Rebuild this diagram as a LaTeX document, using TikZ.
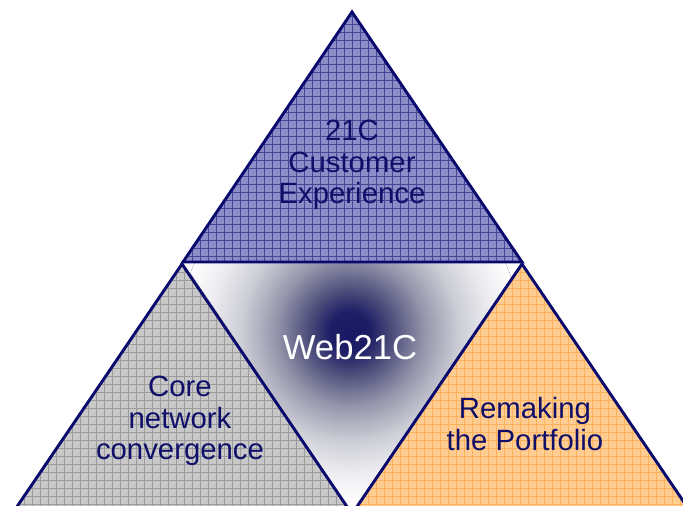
\documentclass[tikz,border=0pt]{standalone}
\usepackage{fontspec}
\setmainfont{Liberation Sans}
\definecolor{edgec}{RGB}{10,10,110}
\definecolor{textc}{RGB}{15,15,105}
\definecolor{topfill}{RGB}{140,140,200}
\definecolor{topgrid}{RGB}{70,70,150}
\definecolor{grayfill}{RGB}{200,200,200}
\definecolor{graygrid}{RGB}{155,155,155}
\definecolor{orfill}{RGB}{255,204,146}
\definecolor{orgrid}{RGB}{250,178,92}
\pgfdeclareradialshading{webglow}{\pgfpoint{0bp}{0bp}}{%
rgb(0bp)=(0.098,0.098,0.392);
rgb(3bp)=(0.118,0.118,0.4);
rgb(6bp)=(0.294,0.294,0.478);
rgb(11bp)=(0.588,0.588,0.675);
rgb(16bp)=(0.804,0.804,0.839);
rgb(21bp)=(0.933,0.933,0.949);
rgb(25bp)=(1,1,1);
rgb(50bp)=(1,1,1)}
\newcommand{\gridtri}[3]{%
\begin{scope}
\clip #1;
\fill[#2] (0,0) rectangle (683,520);
\foreach \g in {0,8,...,688} {\draw[#3,line width=0.45pt] (\g,0)--(\g,520);}
\foreach \g in {0,8,...,520} {\draw[#3,line width=0.45pt] (0,\g)--(690,\g);}
\end{scope}
\draw[edgeline] #1;
}
\tikzset{
  edgeline/.style={draw=edgec,line width=2.2pt,line join=miter},
  lbl/.style={text=textc,font=\fontsize{22}{23.5}\selectfont,align=center,inner sep=0pt},
}
\begin{document}
\begin{tikzpicture}[x=0.75pt,y=-0.75pt]
\useasboundingbox (0,0) rectangle (683,506);
\begin{scope}
\clip (0,0) rectangle (683,506);
% central glowing triangle
\begin{scope}
\clip (183,262)--(522,262)--(352,512)--cycle;
\fill[white] (0,0) rectangle (683,520);
\fill[shading=webglow] (350,332) circle (170);
\end{scope}
% top triangle
\gridtri{(352,12)--(522,262)--(183,262)--cycle}{topfill}{topgrid}
% bottom-left triangle
\gridtri{(182,264)--(352,514)--(12,514)--cycle}{grayfill}{graygrid}
% bottom-right triangle
\gridtri{(522,264)--(692,514)--(352,514)--cycle}{orfill}{orgrid}
\end{scope}
\node[lbl] (cust) at (352,165) {21C\\Customer\\Experience};
\node[lbl] (core) at (180,421) {Core\\network\\convergence};
\node[lbl] (remake) at (525,424) {Remaking\\the Portfolio};
\node[text=white,font=\fontsize{26}{28}\selectfont,inner sep=0pt] (web) at (350,347) {Web21C};
\end{tikzpicture}
\end{document}
